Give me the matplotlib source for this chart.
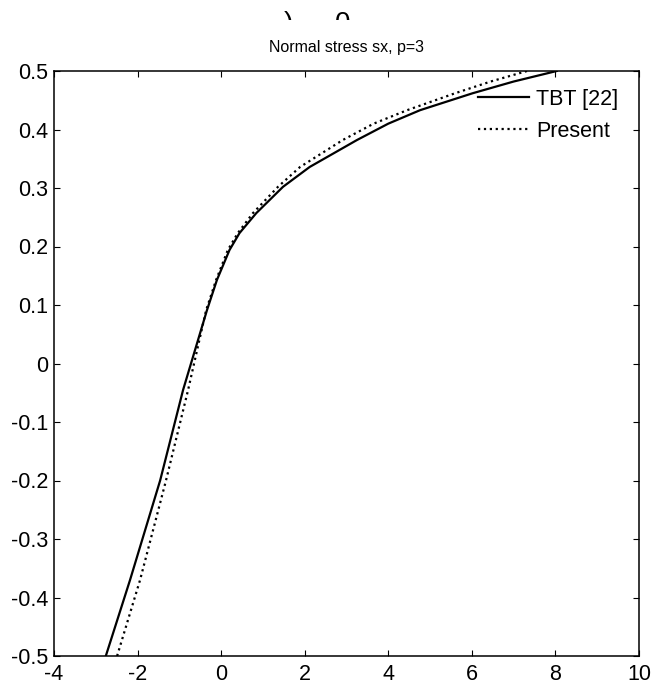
import matplotlib
matplotlib.use('Agg')
import matplotlib.pyplot as plt
from matplotlib.transforms import Bbox

plt.rcParams['font.family'] = ['Liberation Sans', 'DejaVu Sans']

# normal stress through the thickness
z_tbt = [-0.5, -0.37, -0.2, -0.045, 0.091, 0.143, 0.194, 0.223, 0.257, 0.302,
         0.336, 0.382, 0.41, 0.433, 0.462, 0.482, 0.5]
sx_tbt = [-2.76, -2.18, -1.46, -0.91, -0.34, -0.1, 0.20, 0.44, 0.84, 1.48,
          2.12, 3.25, 4.0, 4.76, 6.02, 7.0, 8.03]

z_present = [-0.5, -0.37, -0.2, -0.045, 0.091, 0.143, 0.194, 0.223, 0.257, 0.302,
             0.336, 0.382, 0.41, 0.433, 0.462, 0.482, 0.5]
sx_present = [-2.49, -1.94, -1.32, -0.79, -0.36, -0.12, 0.16, 0.40, 0.76, 1.36,
              1.89, 2.91, 3.65, 4.45, 5.6, 6.45, 7.32]

xticks = [-4, -2, 0, 2, 4, 6, 8, 10]
yticks = [-0.5, -0.4, -0.3, -0.2, -0.1, 0, 0.1, 0.2, 0.3, 0.4, 0.5]
yticklabels = ['-0.5', '-0.4', '-0.3', '-0.2', '-0.1', '0', '0.1', '0.2', '0.3', '0.4', '0.5']

fig = plt.figure(figsize=(6.54, 6.91), dpi=100)
ax = fig.add_axes([54 / 654, 35 / 691, 585 / 654, 585 / 691])

ax.plot(sx_tbt, z_tbt, color='black', linestyle='-', linewidth=1.6, label='TBT [22]')
ax.plot(sx_present, z_present, color='black', linestyle=':', linewidth=1.6, label='Present')

ax.set_xlim(-4, 10)
ax.set_ylim(-0.5, 0.5)
ax.set_xticks(xticks)
ax.set_xticklabels([str(t) for t in xticks])
ax.set_yticks(yticks)
ax.set_yticklabels(yticklabels)
ax.tick_params(direction='in', length=4, width=0.8, labelsize=15.5,
               top=True, right=True, pad=4)
ax.tick_params(axis='x', pad=6)
for s in ax.spines.values():
    s.set_linewidth(1.1)

ax.set_title('Normal stress sx, p=3', fontsize=11.5, pad=14)

ax.legend(loc='upper right', frameon=False, fontsize=15.5, handlelength=2.4,
          handletextpad=0.3, labelspacing=0.5, borderaxespad=0.3,
          bbox_to_anchor=(0.99, 0.995))

# tops of a caption line cut off at the upper edge
clip = Bbox([[0, 671], [654, 691]])
for xp, ch in [(288, ')'), (343, '0')]:
    t = fig.text(xp / 654, 680 / 691, ch, fontsize=20, ha='center', va='top')
    t.set_clip_box(clip)
    t.set_clip_on(True)

fig.savefig('out.png', dpi=100)
